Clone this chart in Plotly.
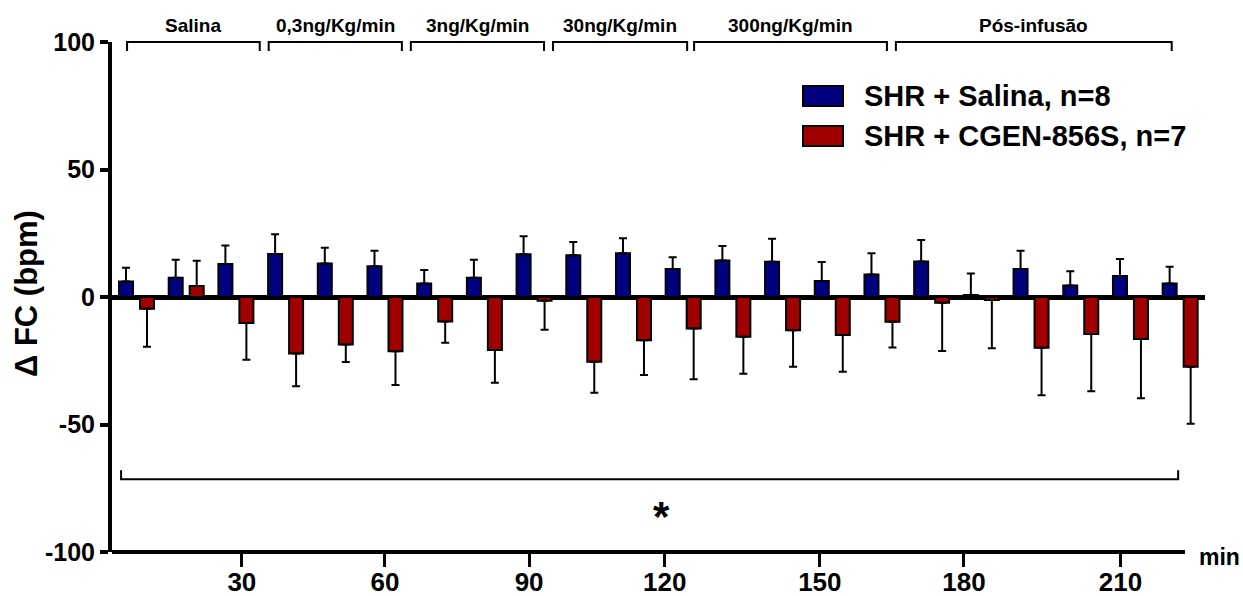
import plotly.graph_objects as go

# Time points (min) and heart-rate change (mean and SD) for each group
times = [10, 20, 30, 40, 50, 60, 70, 80, 90, 100, 110,
         120, 130, 140, 150, 160, 170, 180, 190, 200, 210, 220]

salina_mean = [6.1, 7.5, 12.9, 16.9, 13.1, 12.1, 5.3, 7.5, 16.8, 16.4, 17.2,
               11.0, 14.3, 13.8, 6.3, 8.8, 13.9, 0.8, 11.0, 4.5, 8.2, 5.3]
salina_sd = [5.4, 7.1, 7.3, 7.7, 6.2, 6.0, 5.3, 7.1, 7.0, 5.2, 5.8,
             4.6, 5.7, 9.0, 7.4, 8.4, 8.5, 8.4, 7.1, 5.6, 6.7, 6.6]

cgen_mean = [-4.6, 4.3, -10.2, -22.2, -18.6, -21.3, -9.6, -20.8, -1.5, -25.4, -17.0,
             -12.4, -15.6, -13.0, -14.9, -9.7, -2.3, -1.2, -19.9, -14.5, -16.5, -27.4]
cgen_sd = [14.9, 9.9, 14.4, 12.8, 6.9, 13.2, 8.3, 12.8, 11.3, 12.1, 13.6,
           19.9, 14.5, 14.4, 14.4, 10.1, 18.9, 18.9, 18.6, 22.5, 23.2, 22.3]

series_names = ["SHR + Salina, n=8", "SHR + CGEN-856S, n=7"]
series_colors = ["#000080", "#A00000"]

# Axis tick labels and where they sit on the time axis
tick_text = ["30", "60", "90", "120", "150", "180", "210"]
tick_vals = [31.2, 60.0, 89.0, 116.3, 147.5, 176.5, 208.0]

# Infusion periods shown as brackets above the bars
period_labels = ["Salina", "0,3ng/Kg/min", "3ng/Kg/min", "30ng/Kg/min",
                 "300ng/Kg/min", "Pós-infusão"]
period_spans = [(8.1, 34.8), (36.6, 63.4), (65.2, 92.0), (93.8, 120.8),
                (122.2, 161.0), (162.8, 218.3)]

FONT = "Liberation Sans, Arial, sans-serif"
W, H = 1243, 596
ML, MR, MT, MB = 112, 38, 42, 44
X_MIN, X_MAX = 5.07, 225.0
AXIS_END = 220.97


def px_x(px):
    return (px - ML) / (W - ML - MR)


def px_y(py):
    return (H - MB - py) / (H - MT - MB)


def one_sided(means, sds):
    up = [s if m >= 0 else 0 for m, s in zip(means, sds)]
    down = [s if m < 0 else 0 for m, s in zip(means, sds)]
    return up, down


fig = go.Figure()
for name, color, means, sds in [
    (series_names[0], series_colors[0], salina_mean, salina_sd),
    (series_names[1], series_colors[1], cgen_mean, cgen_sd),
]:
    up, down = one_sided(means, sds)
    fig.add_trace(go.Bar(
        x=times, y=means, name=name,
        marker=dict(color=color, line=dict(color="black", width=2)),
        error_y=dict(type="data", symmetric=False, array=up, arrayminus=down,
                     color="black", thickness=2, width=4),
        showlegend=False,
    ))

shapes = []
annotations = []

# bottom axis line
shapes.append(dict(type="line", xref="x", yref="paper", x0=X_MIN, x1=AXIS_END,
                   y0=0, y1=0, line=dict(color="black", width=4)))

# period brackets along the top
for label, (a, b) in zip(period_labels, period_spans):
    shapes.append(dict(type="path", xref="x", yref="paper",
                       path=f"M {a},{px_y(51)} L {a},{px_y(42)} L {b},{px_y(42)} L {b},{px_y(51)}",
                       line=dict(color="black", width=2)))
    annotations.append(dict(x=(a + b) / 2, y=px_y(26), xref="x", yref="paper",
                            text=f"<b>{label}</b>", showarrow=False,
                            font=dict(family=FONT, size=19, color="black"),
                            xanchor="center", yanchor="middle"))

# significance bracket spanning the whole protocol
shapes.append(dict(type="path", xref="x", yref="y",
                   path="M 6.9,-67.9 L 6.9,-71.5 L 219.6,-71.5 L 219.6,-67.9",
                   line=dict(color="black", width=2)))
annotations.append(dict(x=115.7, y=-86, xref="x", yref="y", text="<b>*</b>",
                        showarrow=False, font=dict(family=FONT, size=42, color="black"),
                        xanchor="center", yanchor="middle"))

# legend
for i, (name, color) in enumerate(zip(series_names, series_colors)):
    top = 86 + 40 * i
    shapes.append(dict(type="rect", xref="paper", yref="paper",
                       x0=px_x(803), x1=px_x(843), y0=px_y(top + 20), y1=px_y(top),
                       fillcolor=color, line=dict(color="black", width=2)))
    annotations.append(dict(x=px_x(862), y=px_y(top + 10), xref="paper", yref="paper",
                            text=f"<b>{name}</b>", showarrow=False,
                            font=dict(family=FONT, size=29, color="black"),
                            xanchor="left", yanchor="middle"))

# axis titles
annotations.append(dict(x=px_x(26), y=px_y(294), xref="paper", yref="paper",
                        text="<b>Δ FC (bpm)</b>", textangle=-90, showarrow=False,
                        font=dict(family=FONT, size=31, color="black"),
                        xanchor="center", yanchor="middle"))
annotations.append(dict(x=px_x(1197), y=px_y(557), xref="paper", yref="paper",
                        text="<b>min</b>", showarrow=False,
                        font=dict(family=FONT, size=23, color="black"),
                        xanchor="left", yanchor="middle"))

fig.update_layout(
    template="none",
    width=W, height=H,
    margin=dict(l=ML, r=MR, t=MT, b=MB, autoexpand=False),
    paper_bgcolor="white", plot_bgcolor="white",
    barmode="group", bargap=0.155, bargroupgap=0.333,
    font=dict(family=FONT, color="black"),
    shapes=shapes, annotations=annotations,
    xaxis=dict(range=[X_MIN, X_MAX], showgrid=False, zeroline=False, showline=False,
               automargin=False,
               tickmode="array", tickvals=tick_vals, ticktext=[f"<b>{t}</b>" for t in tick_text],
               ticks="outside", ticklen=14, tickwidth=3, tickcolor="black",
               ticklabelstandoff=-7,
               tickfont=dict(family=FONT, size=26, color="black")),
    yaxis=dict(range=[-100, 100], showgrid=False, automargin=False,
               zeroline=True, zerolinecolor="black", zerolinewidth=5,
               showline=True, linecolor="black", linewidth=4,
               tickmode="array", tickvals=[-100, -50, 0, 50, 100],
               ticktext=["<b>-100</b>", "<b>-50</b>", "<b>0</b>", "<b>50</b>", "<b>100</b>"],
               ticks="outside", ticklen=8, tickwidth=4, tickcolor="black",
               tickfont=dict(family=FONT, size=25, color="black")),
)

fig.write_html("out.html")
